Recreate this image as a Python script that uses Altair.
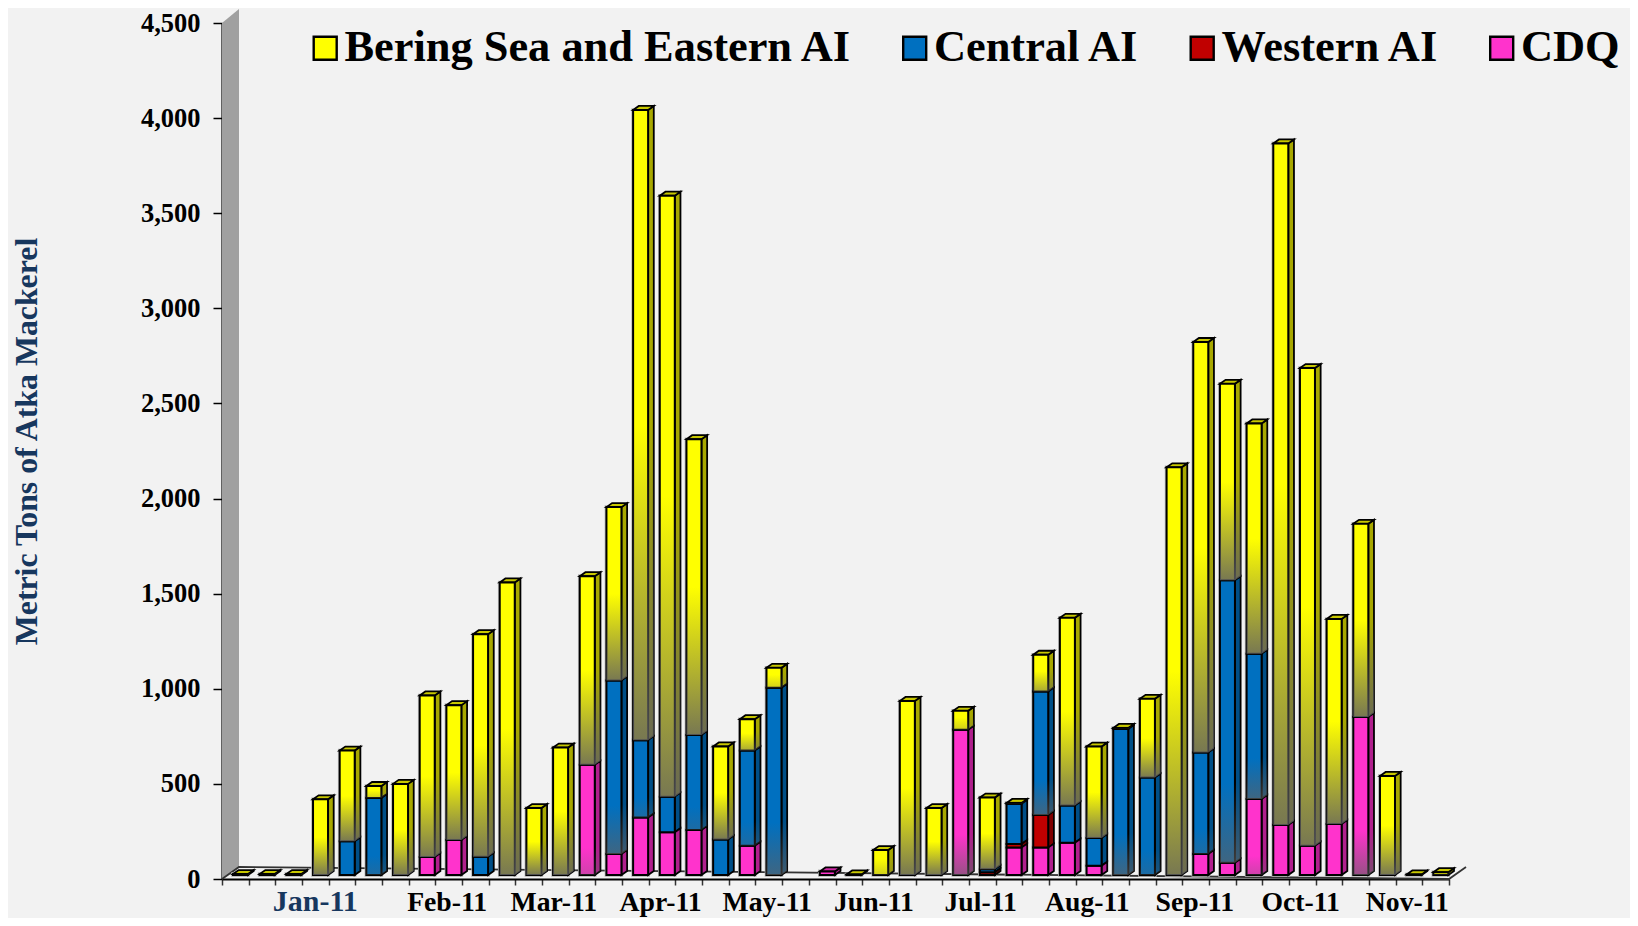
import altair as alt
import pandas as pd

N_CATS = 46
series_names = ["Bering Sea and Eastern AI", "Central AI", "Western AI", "CDQ"]
cdq = [0,0,0,0,0,0,0,95,184,0,0,0,0,579,110,302,225,236,0,154,0,0,19,0,0,0,0,763,0,144,144,170,49,0,0,0,110,65,400,263,154,268,831,0,0,0]
western = [0]*28 + [15,19,172] + [0]*15
central = [0,0,0,0,178,405,0,0,0,96,0,0,0,0,912,407,187,500,187,500,984,0,0,0,0,0,0,0,15,211,649,195,146,768,512,0,534,1484,763,0,0,0,0,0,0,0]
bering = [5,5,5,398,476,63,479,849,709,1170,1538,352,670,992,912,3313,3159,1555,489,165,105,0,0,3,131,915,352,100,377,5,193,987,480,5,414,2143,2158,1033,1211,3583,2511,1078,1015,521,3,15]
month_labels = ["Jan-11","Feb-11","Mar-11","Apr-11","May-11","Jun-11","Jul-11","Aug-11","Sep-11","Oct-11","Nov-11"]
month_pos = [3.5,8.44,12.44,16.44,20.44,24.44,28.44,32.44,36.47,40.44,44.44]

FRONT = {"CDQ":"#FF33CC","Western AI":"#C00000","Central AI":"#0070C0","Bering Sea and Eastern AI":"#FFFF00"}
SIDE = {"CDQ":"#B0208D","Western AI":"#800000","Central AI":"#004F87","Bering Sea and Eastern AI":"#A8A800"}
TOP = {"CDQ":"#CC29A3","Western AI":"#990000","Central AI":"#005A9A","Bering Sea and Eastern AI":"#C8C800"}
FONT = "Liberation Serif"
NAVY = "#17375E"

PX_UNIT = 0.1902
BASE = 21
DX = 5.67/26.67
DY = 4/PX_UNIT
X0 = 0.4125
X1 = 0.975
WALL_DX = 17/26.67
WALL_TOP = 4573
WALL_LOW = 63

stack = [("CDQ",cdq),("Western AI",western),("Central AI",central),("Bering Sea and Eastern AI",bering)]
rows = []
tops = []
for i in range(N_CATS):
    cum = BASE
    last = None
    for name, arr in stack:
        v = arr[i]
        if v > 0:
            rows.append(dict(cat=i, series=name, seg=f"{i}-{name}", x=i+X0, x2=i+X1, y=cum+v, y2=cum, h=v*PX_UNIT))
            cum += v
            last = name
    if last:
        tops.append(dict(cat=i, series=last, y=cum))
front = pd.DataFrame(rows)

side_rows = []
for r in rows:
    side_rows.append(dict(series=r["series"], seg=r["seg"], px=r["x2"], y=r["y"], y2=r["y2"], h=r["h"]))
    side_rows.append(dict(series=r["series"], seg=r["seg"], px=r["x2"]+DX, y=r["y"]+DY, y2=r["y2"]+DY, h=r["h"]))
side = pd.DataFrame(side_rows)

top_rows = []
for t in tops:
    i, yy = t["cat"], t["y"]
    s = t["series"]
    for px, a, b in [(i+X0, yy, yy), (i+X0+DX, yy+DY, yy), (i+X1, yy+DY, yy), (i+X1+DX, yy+DY, yy+DY)]:
        top_rows.append(dict(series=s, seg=str(i), px=px, y=a, y2=b))
topd = pd.DataFrame(top_rows)

xs = alt.Scale(domain=[0, N_CATS], nice=False, zero=False)
ys = alt.Scale(domain=[0, 4500], nice=False, zero=False)
x_axis = alt.Axis(values=list(range(N_CATS+1)), labels=False, tickSize=6, tickColor="#333333", tickWidth=1.5,
                  domainColor="black", domainWidth=2.2, grid=False, title=None)
Y_TITLE = "Metric Tons of Atka Mackerel"
y_axis = alt.Axis(values=list(range(0,4501,500)), format=",.0f", tickSize=9, tickColor="black", tickWidth=1.5,
                  domainColor="black", domainWidth=2.2, grid=False,
                  labelFont=FONT, labelFontWeight="bold", labelFontSize=26.5, labelColor="black", labelPadding=13,
                  titleFont=FONT, titleFontWeight="bold", titleFontSize=31.8, titleColor=NAVY, titleX=-179, titleY=418)
X = alt.X("x:Q", scale=xs, axis=x_axis, title=None)
Y = alt.Y("y:Q", scale=ys, axis=y_axis, title=Y_TITLE, stack=None)
PX = alt.X("px:Q", scale=xs, axis=x_axis, title=None)

def grad(p, a):
    return alt.Gradient(gradient="linear", x1=0, y1=0, x2=0, y2=1, stops=[
        alt.GradientStop(color="rgba(96,96,96,0)", offset=0),
        alt.GradientStop(color="rgba(96,96,96,0)", offset=p),
        alt.GradientStop(color=f"rgba(96,96,96,{a})", offset=1)])

def bucket(series, h):
    if series == "Bering Sea and Eastern AI":
        if h < 30: return (0.35, 0.3)
        if h < 60: return (0.45, 0.55)
        return (0.5, 0.85)
    if h < 70: return None
    if h < 120: return (0.75, 0.3)
    return (0.72, 0.65)

layers = []

# wall
wall = pd.DataFrame({"px":[0, WALL_DX], "y":[4500, WALL_TOP], "y2":[0, WALL_LOW]})
layers.append(alt.Chart(wall).mark_area(color="#A0A0A0", opacity=1).encode(x=PX, y=Y, y2="y2:Q"))
# floor edges
floor = pd.DataFrame({"px":[0, WALL_DX, N_CATS+WALL_DX, N_CATS], "y":[0, WALL_LOW, WALL_LOW, 0]})
layers.append(alt.Chart(floor).mark_line(color="#333333", strokeWidth=1.8, interpolate="linear").encode(x=PX, y=Y))

# halo
layers.append(alt.Chart(front).mark_rect(fill="#F2F2F2", stroke="#B5B5B5", strokeWidth=3.6).encode(x=X, x2="x2:Q", y=Y, y2="y2:Q"))

# sides and tops
for name in series_names:
    s = side[side.series == name]
    if len(s):
        layers.append(alt.Chart(s).mark_area(color=SIDE[name], stroke="black", strokeWidth=1.8, opacity=1).encode(x=PX, y=Y, y2="y2:Q", detail="seg:N"))
    t = topd[topd.series == name]
    if len(t):
        layers.append(alt.Chart(t).mark_area(color=TOP[name], stroke="black", strokeWidth=1.8, opacity=1).encode(x=PX, y=Y, y2="y2:Q", detail="seg:N"))

# fronts with legend
layers.append(alt.Chart(front).mark_rect(stroke="black", strokeWidth=2).encode(
    x=X, x2="x2:Q", y=Y, y2="y2:Q",
    fill=alt.Fill("series:N", sort=series_names, scale=alt.Scale(domain=series_names, range=[FRONT[n] for n in series_names]),
        legend=alt.Legend(title=None, orient="none", legendX=81, legendY=3, direction="horizontal", columns=4, gridAlign="none",
            columnPadding=39.5, symbolType="square", symbolSize=529, symbolStrokeColor="black", symbolStrokeWidth=2.4,
            labelFont=FONT, labelFontWeight="bold", labelFontSize=44.4, labelColor="black", labelOffset={"expr":"-3"}, labelLimit=800,
            symbolOpacity=1)),
))

# shading overlays
groups = {}
for r in rows:
    b = bucket(r["series"], r["h"])
    if b:
        groups.setdefault(b, []).append(r["seg"])
for b, segs in groups.items():
    f = front[front.seg.isin(segs)]
    s = side[side.seg.isin(segs)]
    layers.append(alt.Chart(s).mark_area(color=grad(*b), opacity=1).encode(x=PX, y=Y, y2="y2:Q", detail="seg:N"))
    layers.append(alt.Chart(f).mark_rect(color=grad(*b)).encode(x=X, x2="x2:Q", y=Y, y2="y2:Q"))

# month labels
m = pd.DataFrame({"x":month_pos, "label":month_labels})
layers.append(alt.Chart(m[m.label != "Jan-11"]).mark_text(font=FONT, fontWeight="bold", fontSize=27.7, color="black", baseline="middle", align="center").encode(
    x=X, y=alt.value(880), text="label:N"))
layers.append(alt.Chart(m[m.label == "Jan-11"]).mark_text(font=FONT, fontWeight="bold", fontSize=30, color=NAVY, baseline="middle", align="center").encode(
    x=X, y=alt.value(879), text="label:N"))

chart = alt.layer(*layers).properties(
    width=1227, height=856, background="#F2F2F2",
    autosize=alt.AutoSizeParams(type="none"),
    padding={"left":214, "top":15, "right":181, "bottom":39},
).configure_view(stroke=None)

chart.save("out.html", embed_options={"renderer": "svg", "actions": False})
